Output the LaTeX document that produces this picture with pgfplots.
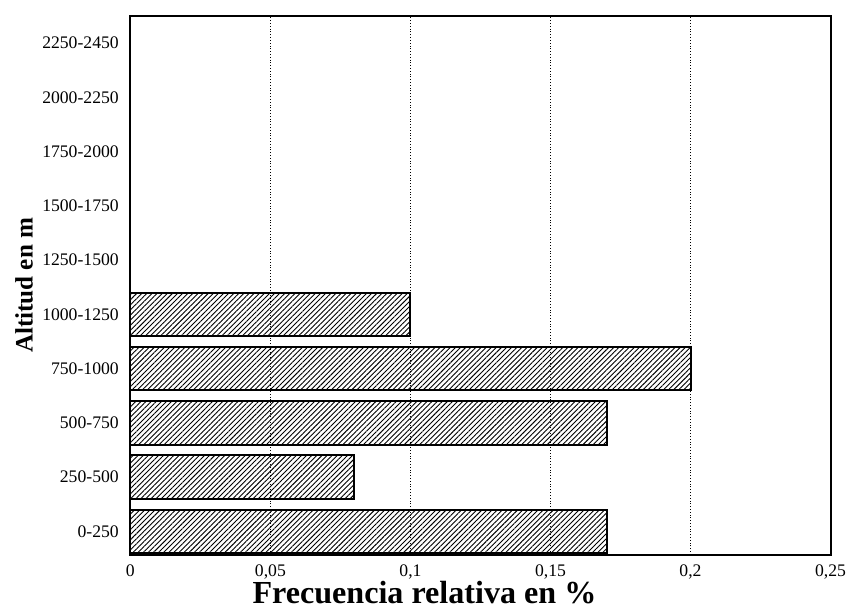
\documentclass[border=0pt]{standalone}
\usepackage{pgfplots}
\pgfplotsset{compat=1.18}
\usetikzlibrary{patterns.meta}
\usepackage{fontspec}
\setmainfont{Liberation Serif}
\begin{document}
\begin{tikzpicture}
  \begin{axis}[
      xbar,
      width=349pt, height=268.5pt, scale only axis,
      xmin=0, xmax=0.25,
      ymin=-0.43, ymax=9.5,
      bar width=0.8,
      xtick={0,0.05,0.1,0.15,0.2,0.25},
      xticklabels={0,{0,05},{0,1},{0,15},{0,2},{0,25}},
      ytick={0,...,9},
      yticklabels={0-250,250-500,500-750,750-1000,1000-1250,1250-1500,1500-1750,1750-2000,2000-2250,2250-2450},
      tick style={draw=none},
      xmajorgrids,
      major grid style={densely dotted, black, line width=0.4pt},
      axis line style={line width=1pt},
      ticklabel style={font=\fontsize{8.8}{10}\selectfont},
      xticklabel style={inner sep=1pt, yshift=-4pt},
      yticklabel style={xshift=2pt},
      xlabel={\textbf{Frecuencia relativa en \%}},
      ylabel={\textbf{Altitud en m}},
      xlabel style={font=\fontsize{16}{18}\selectfont, inner sep=1pt, at={(axis description cs:0.42,0)}, anchor=base, yshift=-24.5pt},
      ylabel style={font=\fontsize{12.5}{14}\selectfont, at={(axis description cs:0,0.5)}, anchor=south, yshift=45pt},
    ]
    \addplot[draw=black, line width=1pt,
      pattern={Lines[angle=45, distance=1.8pt, line width=0.45pt]}]
      coordinates {
      (0.17,0)
      (0.08,1)
      (0.17,2)
      (0.2,3)
      (0.1,4)
    };
  \end{axis}
  \path ([xshift=-65pt, yshift=8pt]current axis.north west);
  \path ([yshift=-27pt]current axis.south west);
\end{tikzpicture}
\end{document}
